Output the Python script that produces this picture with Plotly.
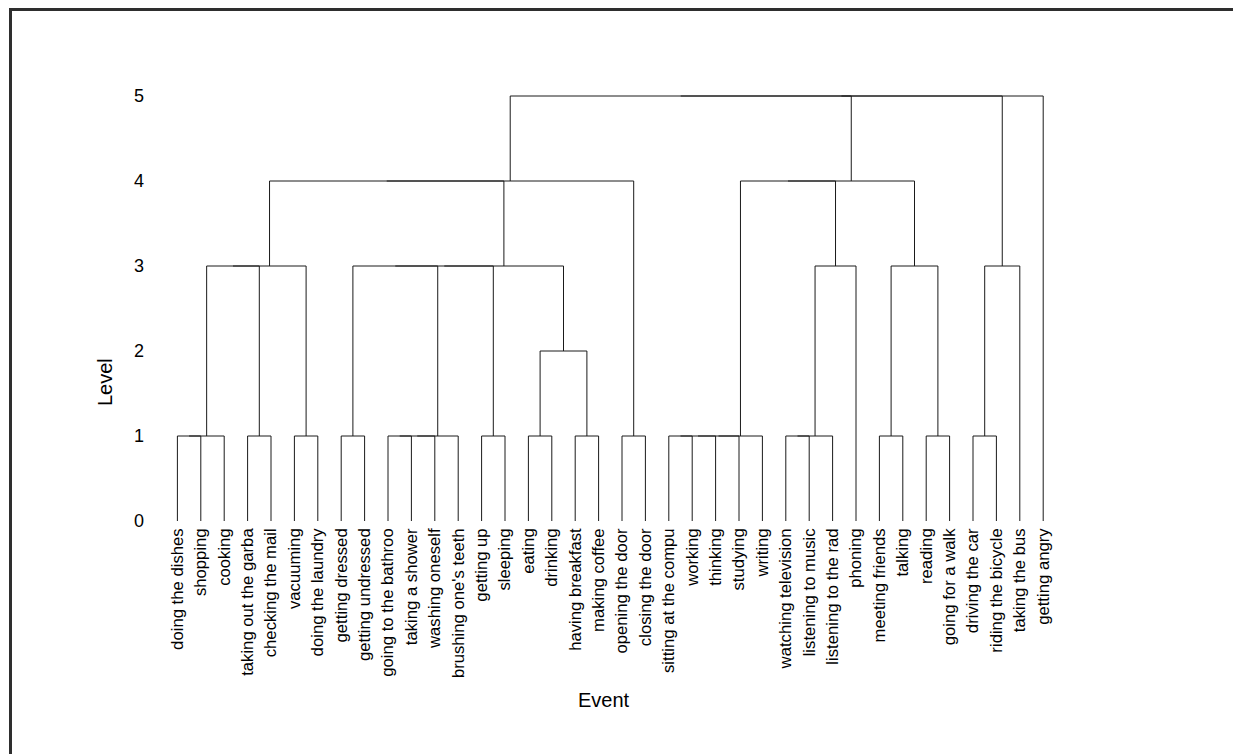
import plotly.graph_objects as go

# ---- data ----
labels = [
    "doing the dishes", "shopping", "cooking", "taking out the garba", "checking the mail",
    "vacuuming", "doing the laundry", "getting dressed", "getting undressed", "going to the bathroo",
    "taking a shower", "washing oneself", "brushing one's teeth", "getting up", "sleeping",
    "eating", "drinking", "having breakfast", "making coffee", "opening the door",
    "closing the door", "sitting at the compu", "working", "thinking", "studying",
    "writing", "watching television", "listening to music", "listening to the rad", "phoning",
    "meeting friends", "talking", "reading", "going for a walk", "driving the car",
    "riding the bicycle", "taking the bus", "getting angry",
]

# hclust-style merges: negative = leaf (1-based), positive = earlier merge (1-based)
merge_left = [-1, 1, -4, 2, -6, 4, -8, -10, 8, 9,
              7, -14, 11, -16, -18, 14, 13, 6, -20, 18,
              -22, 21, 22, 23, -27, 25, 26, -31, -33, 28,
              24, 31, -35, 33, 20, 35, 36]
merge_right = [-2, -3, -5, 3, -7, 5, -9, -11, -12, -13,
               10, -15, 12, -17, -19, 15, 16, 17, -21, 19,
               -23, -24, -25, -26, -28, -29, -30, -32, -34, 29,
               27, 30, -36, -37, 32, 34, -38]
merge_height = [1, 1, 1, 3, 1, 3, 1, 1, 1, 1,
                3, 1, 3, 1, 1, 2, 3, 4, 1, 4,
                1, 1, 1, 1, 1, 1, 3, 1, 1, 3,
                4, 4, 1, 3, 5, 5, 5]

y_ticks = [0, 1, 2, 3, 4, 5]

# ---- build dendrogram segments ----
leaf_pos = list(range(1, len(labels) + 1))
node_x, node_h = [], []
xs, ys = [], []


def info(ref):
    if ref < 0:
        return leaf_pos[-ref - 1], 0.0
    return node_x[ref - 1], node_h[ref - 1]


for a, b, h in zip(merge_left, merge_right, merge_height):
    xa, ha = info(a)
    xb, hb = info(b)
    xs += [xa, xa, xb, xb, None]
    ys += [ha, h, h, hb, None]
    node_x.append((xa + xb) / 2)
    node_h.append(h)

FONT = "Liberation Sans, Arial, Helvetica, sans-serif"

fig = go.Figure()
fig.add_trace(go.Scatter(x=xs, y=ys, mode="lines",
                         line=dict(color="#1a1a1a", width=1),
                         hoverinfo="skip", showlegend=False))

# page offset (body margin) and plot area in figure pixels
OFF = 8
L, T, W, H = 146, 71, 936, 445
def px2x(p):
    return (p - OFF - L) / W
def py2y(p):
    return (T + H - (p - OFF)) / H

fig.add_shape(type="line", xref="paper", yref="paper",
              x0=px2x(9), x1=px2x(1270), y0=py2y(9.5), y1=py2y(9.5),
              line=dict(color="#2e2e2e", width=3))
fig.add_shape(type="line", xref="paper", yref="paper",
              x0=px2x(10.5), x1=px2x(10.5), y0=py2y(8), y1=py2y(780),
              line=dict(color="#2e2e2e", width=3))

fig.add_annotation(text="Level", xref="paper", yref="paper",
                   x=px2x(105), y=py2y(382), xanchor="center", yanchor="middle",
                   showarrow=False, textangle=-90,
                   font=dict(family=FONT, size=20, color="black"))
fig.add_annotation(text="Event", xref="paper", yref="paper",
                   x=px2x(604), y=py2y(700), xanchor="center", yanchor="middle",
                   showarrow=False,
                   font=dict(family=FONT, size=20, color="black"))

fig.update_layout(
    width=1241, height=754,
    margin=dict(l=L, r=1241 - L - W, t=T, b=754 - T - H),
    paper_bgcolor="white", plot_bgcolor="white",
    font=dict(family=FONT, color="black"),
    xaxis=dict(range=[0, 40], tickmode="array", tickvals=leaf_pos, ticktext=labels,
               tickangle=-90, tickfont=dict(size=16.7, family=FONT, color="black"),
               showgrid=False, zeroline=False, showline=False, ticks=""),
    yaxis=dict(range=[-3 / 85, 5.2], tickmode="array", tickvals=y_ticks,
               ticktext=[str(v) for v in y_ticks],
               tickfont=dict(size=18, family=FONT, color="black"),
               showgrid=False, zeroline=False, showline=False, ticks="",
               ticklabelstandoff=9),
)

fig.write_html("out.html")
